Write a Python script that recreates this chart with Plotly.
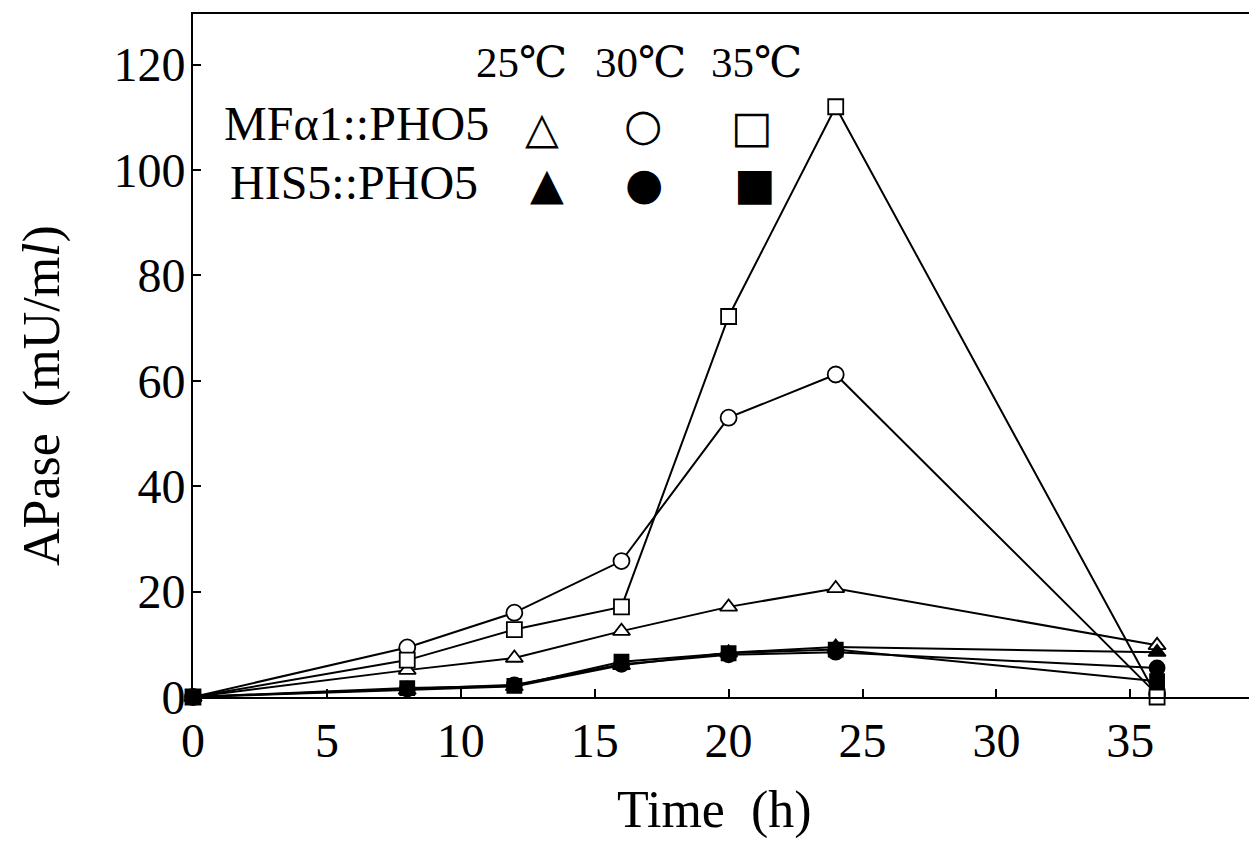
import plotly.graph_objects as go

# ---- data ----
time_h = [0, 8, 12, 16, 20, 24, 36]
mf_25 = [0, 5.1, 7.4, 12.5, 17.1, 20.6, 9.8]
mf_30 = [0, 9.4, 16.0, 25.8, 53.0, 61.2, 0.5]
mf_35 = [0, 7.0, 12.8, 17.1, 72.2, 112.0, 0.0]
his_25 = [0, 1.3, 2.0, 6.0, 8.4, 9.5, 8.5]
his_30 = [0, 1.5, 2.3, 6.2, 8.0, 8.5, 5.5]
his_35 = [0, 1.7, 2.1, 6.7, 8.3, 9.0, 3.0]

x_ticks = [0, 5, 10, 15, 20, 25, 30, 35]
y_ticks = [0, 20, 40, 60, 80, 100, 120]
temps = ["25℃", "30℃", "35℃"]
strains = ["MFα1::PHO5", "HIS5::PHO5"]

# ---- layout constants (page pixels) ----
W, H = 1257, 845
OFF = 8            # default page body margin
L, R, T, B = 193, 0, 14, 148
PW, PH = W - L - R, H - T - B
X_PER = 26.78
Y_PER = 5.27
SERIF = "Liberation Serif, DejaVu Serif, Times New Roman, serif"


def px(x):
    return (x - L) / PW


def py(y):
    return (H - B - y) / PH


fig = go.Figure()

series = [
    (mf_25, "triangle-up", "white", 15, "MFα1::PHO5 25℃"),
    (mf_30, "circle", "white", 16, "MFα1::PHO5 30℃"),
    (mf_35, "square", "white", 15, "MFα1::PHO5 35℃"),
    (his_25, "triangle-up", "black", 15, "HIS5::PHO5 25℃"),
    (his_30, "circle", "black", 15, "HIS5::PHO5 30℃"),
    (his_35, "square", "black", 14, "HIS5::PHO5 35℃"),
]
for vals, sym, fill, size, name in series:
    fig.add_trace(go.Scatter(
        x=time_h, y=vals, mode="lines+markers", name=name,
        line=dict(color="black", width=2),
        marker=dict(symbol=sym, size=size, color=fill,
                    line=dict(color="black", width=1.8)),
        cliponaxis=False, showlegend=False,
    ))

annotations = []
# temperature headers
for txt, cx in zip(temps, [521, 640, 756]):
    annotations.append(dict(x=px(cx), y=py(62), xref="paper", yref="paper",
                            text=txt, showarrow=False, xanchor="center", yanchor="middle",
                            font=dict(family=SERIF, size=43, color="black")))
# strain labels
for txt, lx, cy in zip(strains, [222, 228], [123, 182]):
    annotations.append(dict(x=px(lx), y=py(cy), xref="paper", yref="paper",
                            text=txt, showarrow=False, xanchor="left", yanchor="middle",
                            font=dict(family=SERIF, size=48, color="black")))
# legend key glyphs
keys = [("△", 542, 128), ("○", 643, 125), ("□", 752, 126),
        ("▲", 547, 184), ("●", 644, 183), ("■", 755, 183)]
for g, cx, cy in keys:
    annotations.append(dict(x=px(cx), y=py(cy), xref="paper", yref="paper",
                            text=g, showarrow=False, xanchor="center", yanchor="middle",
                            font=dict(family="DejaVu Sans", size=44, color="black")))
# axis titles
annotations.append(dict(x=px(714), y=py(810), xref="paper", yref="paper",
                        text="Time\u00a0\u00a0(h)", showarrow=False, xanchor="center", yanchor="middle",
                        font=dict(family=SERIF, size=52, color="black")))
annotations.append(dict(x=px(42), y=py(396), xref="paper", yref="paper",
                        text="APase\u00a0\u00a0(mU/m<i>l</i>)", showarrow=False, textangle=-90,
                        xanchor="center", yanchor="middle",
                        font=dict(family=SERIF, size=52, color="black")))

fig.update_layout(
    width=W - OFF, height=H - OFF,
    margin=dict(l=L - OFF, r=R, t=T - OFF, b=B, pad=0),
    paper_bgcolor="white", plot_bgcolor="white",
    annotations=annotations,
    showlegend=False,
    xaxis=dict(range=[0, PW / X_PER], tickvals=x_ticks, ticktext=[str(v) for v in x_ticks],
               showgrid=False, zeroline=False, showline=True, linecolor="black", linewidth=2,
               mirror=True, ticks="inside", ticklen=8, tickwidth=2, tickcolor="black",
               ticklabelstandoff=0,
               tickfont=dict(family=SERIF, size=48, color="black")),
    yaxis=dict(range=[0, PH / Y_PER], tickvals=y_ticks, ticktext=[str(v) for v in y_ticks],
               showgrid=False, zeroline=False, showline=True, linecolor="black", linewidth=2,
               ticks="inside", ticklen=8, tickwidth=2, tickcolor="black",
               ticklabelstandoff=-4,
               tickfont=dict(family=SERIF, size=48, color="black")),
)

fig.write_html("out.html")
